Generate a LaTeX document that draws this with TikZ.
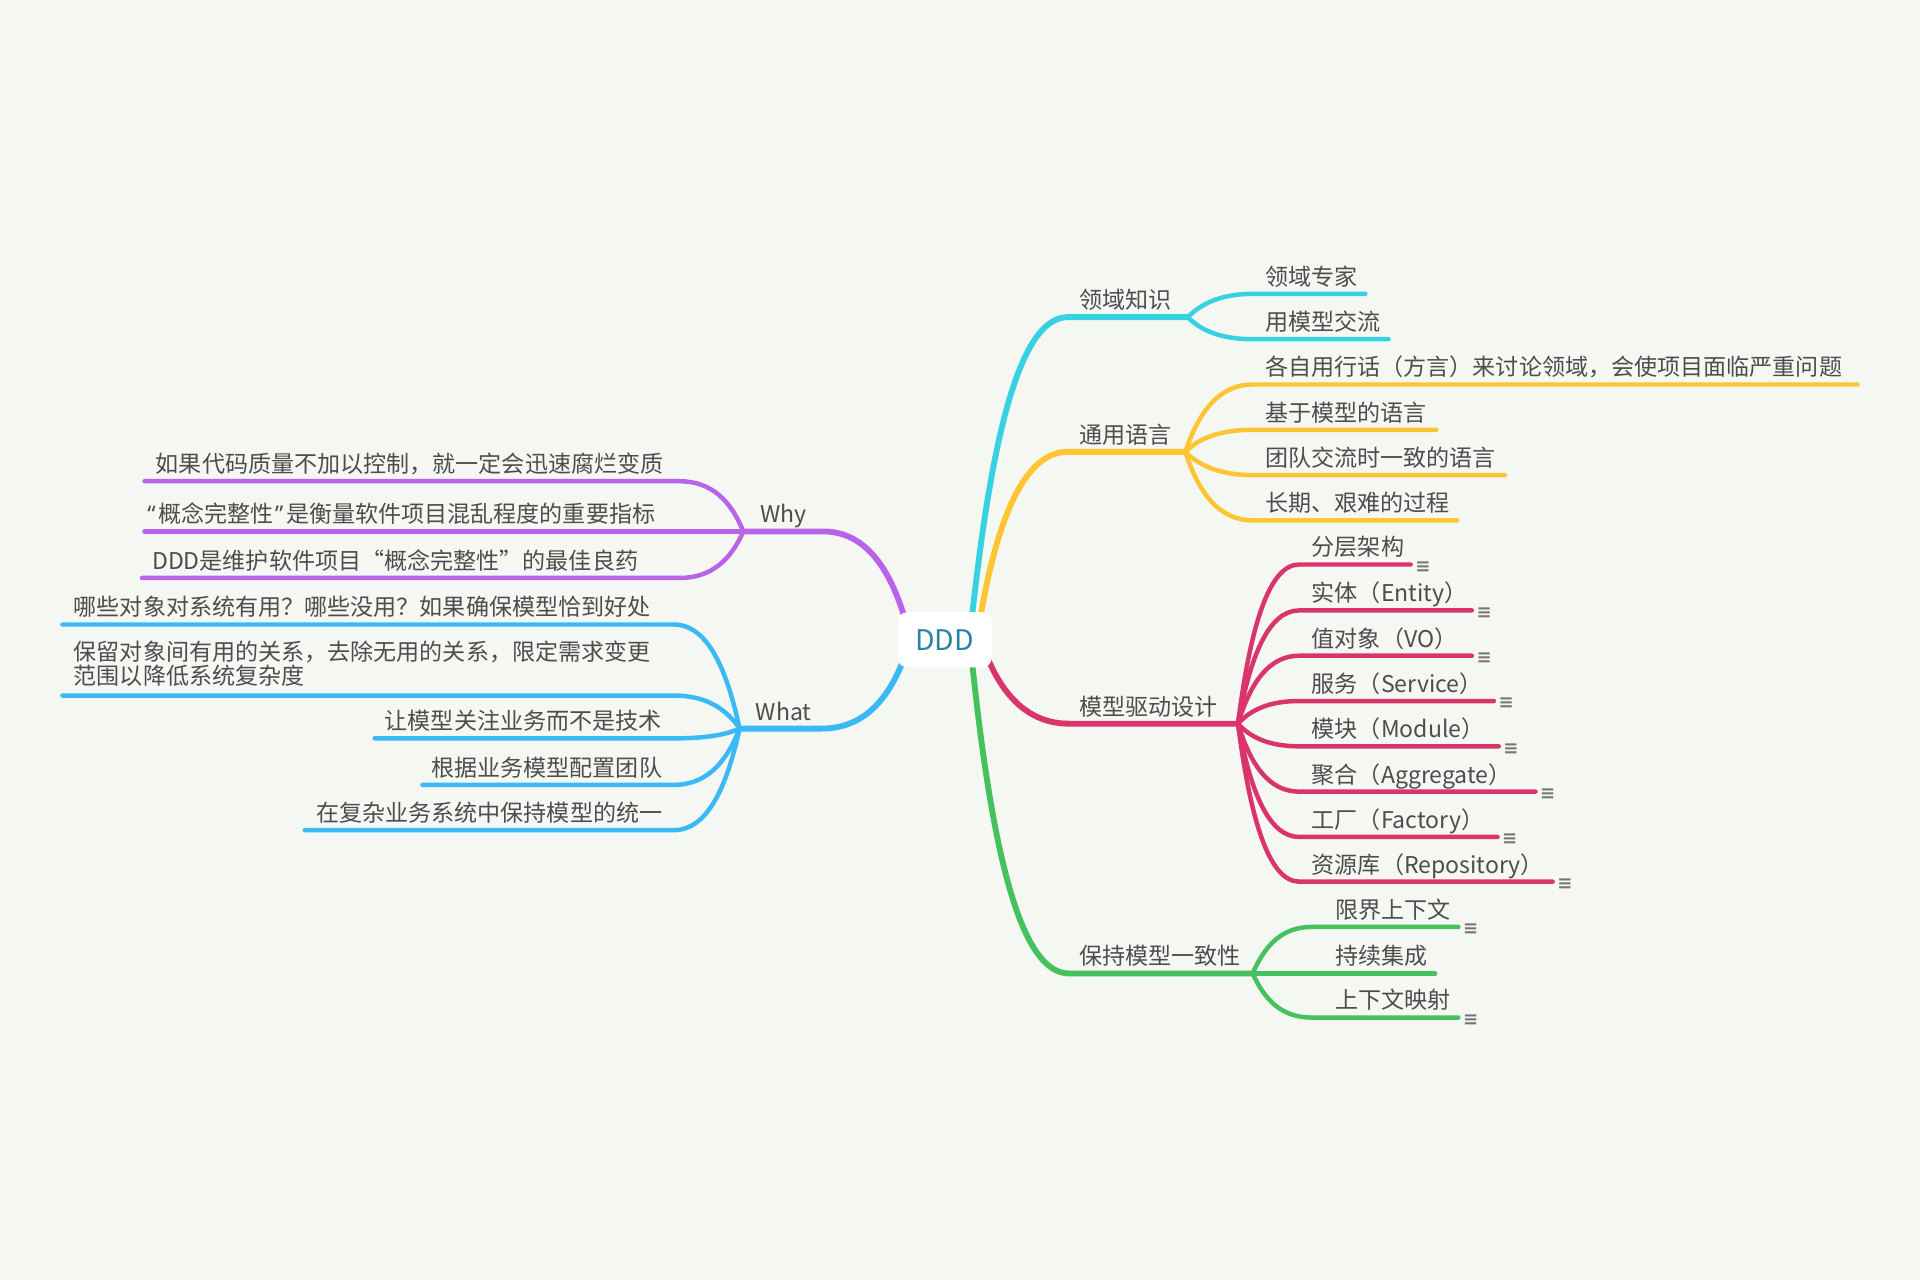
\documentclass[tikz,border=0pt]{standalone}
\usepackage{fontspec}
\setmainfont{Noto Sans CJK SC}
\newfontfamily\symfont{DejaVu Sans}
\newfontfamily\quotefont{Noto Sans}
\definecolor{bgc}{HTML}{F5F7F3}
\definecolor{txt}{HTML}{4D4D4D}
\definecolor{dddc}{HTML}{2A86A0}
\definecolor{cyanb}{HTML}{36D2E2}
\definecolor{yellowb}{HTML}{FEC532}
\definecolor{redb}{HTML}{D9346C}
\definecolor{greenb}{HTML}{45C15D}
\definecolor{purpleb}{HTML}{B963E9}
\definecolor{blueb}{HTML}{3BB9F5}
\definecolor{notec}{HTML}{767676}

\begin{document}
\begin{tikzpicture}[x=0.025cm, y=-0.025cm,
	every node/.style={inner sep=0pt, text=txt, font=\fontsize{13.4pt}{16pt}\selectfont},
	root/.style={rectangle, rounded corners=0.2cm, fill=white, minimum width=1.925cm, minimum height=1.125cm, text=dddc, font=\fontsize{16.5pt}{18pt}\selectfont},
	topic/.style={anchor=base west},
	hub/.style={anchor=base},
	trunk/.style={line width=3.4pt, line cap=round},
	twig/.style={line width=2.6pt, line cap=round},
	note/.style={text=notec, font=\symfont\bfseries\fontsize{10.5pt}{10.5pt}\selectfont}]
	\fill[bgc] (0,0) rectangle (1568,1045);
	\useasboundingbox (0,0) rectangle (1568,1045);

	% 领域知识
	\coordinate (kS) at (794,502);
	\coordinate (k) at (872,259);
	\coordinate (kF) at (970,259);
	\draw[trunk, cyanb] (kS) .. controls +(16,-146) and +(-39,0) .. (k) -- (kF);
	\node[topic] (kT) at (881,252) {领域知识};
	\coordinate (kA) at (1023,240); \coordinate (kAe) at (1115,240);
	\coordinate (kB) at (1023,277); \coordinate (kBe) at (1134,277);
	\draw[twig, cyanb] (kF) .. controls +(11,-11) and +(-26,0) .. (kA) -- (kAe);
	\draw[twig, cyanb] (kF) .. controls +(11,11) and +(-26,0) .. (kB) -- (kBe);
	\node[topic] (kAt) at (1033,233) {领域专家};
	\node[topic] (kBt) at (1033,270) {用模型交流};

	% 通用语言
	\coordinate (lS) at (801,502);
	\coordinate (l) at (872,369);
	\coordinate (lF) at (968,369);
	\draw[trunk, yellowb] (lS) .. controls +(14,-80) and +(-35,0) .. (l) -- (lF);
	\node[topic] (lT) at (881,362) {通用语言};
	\coordinate (lA) at (1023,314); \coordinate (lAe) at (1517,314);
	\coordinate (lB) at (1023,351); \coordinate (lBe) at (1173,351);
	\coordinate (lC) at (1023,388); \coordinate (lCe) at (1229,388);
	\coordinate (lD) at (1023,425); \coordinate (lDe) at (1190,425);
	\draw[twig, yellowb] (lF) .. controls +(11,-33) and +(-27,0) .. (lA) -- (lAe);
	\draw[twig, yellowb] (lF) .. controls +(11,-11) and +(-27,0) .. (lB) -- (lBe);
	\draw[twig, yellowb] (lF) .. controls +(11,11) and +(-27,0) .. (lC) -- (lCe);
	\draw[twig, yellowb] (lF) .. controls +(11,34) and +(-27,0) .. (lD) -- (lDe);
	\node[topic] (lAt) at (1033,307) {各自用行话（方言）来讨论领域，会使项目面临严重问题};
	\node[topic] (lBt) at (1033,344) {基于模型的语言};
	\node[topic] (lCt) at (1033,381) {团队交流时一致的语言};
	\node[topic] (lDt) at (1033,418) {长期、艰难的过程};

	% 模型驱动设计
	\coordinate (mS) at (806,536);
	\coordinate (m) at (873,591);
	\coordinate (mF) at (1011,591);
	\draw[trunk, redb] (mS) .. controls +(13,32) and +(-33,0) .. (m) -- (mF);
	\node[topic] (mT) at (881,584) {模型驱动设计};
	\coordinate (m1) at (1061,461); \coordinate (m1e) at (1152,461);
	\coordinate (m2) at (1061,498.5); \coordinate (m2e) at (1202,498.5);
	\coordinate (m3) at (1061,535.5); \coordinate (m3e) at (1202,535.5);
	\coordinate (m4) at (1061,572.5); \coordinate (m4e) at (1220,572.5);
	\coordinate (m5) at (1061,609.5); \coordinate (m5e) at (1224,609.5);
	\coordinate (m6) at (1061,646.5); \coordinate (m6e) at (1254,646.5);
	\coordinate (m7) at (1061,683.5); \coordinate (m7e) at (1223,683.5);
	\coordinate (m8) at (1061,720); \coordinate (m8e) at (1268,720);
	\draw[twig, redb] (mF) .. controls +(10,-78) and +(-25,0) .. (m1) -- (m1e);
	\draw[twig, redb] (mF) .. controls +(10,-55) and +(-25,0) .. (m2) -- (m2e);
	\draw[twig, redb] (mF) .. controls +(10,-33) and +(-25,0) .. (m3) -- (m3e);
	\draw[twig, redb] (mF) .. controls +(10,-11) and +(-25,0) .. (m4) -- (m4e);
	\draw[twig, redb] (mF) .. controls +(10,11) and +(-25,0) .. (m5) -- (m5e);
	\draw[twig, redb] (mF) .. controls +(10,33) and +(-25,0) .. (m6) -- (m6e);
	\draw[twig, redb] (mF) .. controls +(10,55) and +(-25,0) .. (m7) -- (m7e);
	\draw[twig, redb] (mF) .. controls +(10,77) and +(-25,0) .. (m8) -- (m8e);
	\node[topic] (m1t) at (1071,454) {分层架构};
	\node[topic] (m2t) at (1071,491.5) {实体（Entity）};
	\node[topic] (m3t) at (1071,528.5) {值对象（VO）};
	\node[topic] (m4t) at (1071,565.5) {服务（Service）};
	\node[topic] (m5t) at (1071,602.5) {模块（Module）};
	\node[topic] (m6t) at (1071,639.5) {聚合（Aggregate）};
	\node[topic] (m7t) at (1071,676.5) {工厂（Factory）};
	\node[topic] (m8t) at (1071,713) {资源库（Repository）};
	\node[note] (m1n) at (1162,463) {≡};
	\node[note] (m2n) at (1212,500.5) {≡};
	\node[note] (m3n) at (1212,537.5) {≡};
	\node[note] (m4n) at (1230,574.5) {≡};
	\node[note] (m5n) at (1234,611.5) {≡};
	\node[note] (m6n) at (1264,648.5) {≡};
	\node[note] (m7n) at (1233,685.5) {≡};
	\node[note] (m8n) at (1278,722) {≡};

	% 保持模型一致性
	\coordinate (gS) at (794,542);
	\coordinate (g) at (873,795);
	\coordinate (gF) at (1023,795);
	\draw[trunk, greenb] (gS) .. controls +(16,152) and +(-40,0) .. (g) -- (gF);
	\node[topic] (gT) at (881,788) {保持模型一致性};
	\coordinate (gA) at (1071,757); \coordinate (gAe) at (1191,757);
	\coordinate (gBe) at (1172,795);
	\coordinate (gC) at (1071,831); \coordinate (gCe) at (1191,831);
	\draw[twig, greenb] (gF) .. controls +(10,-23) and +(-24,0) .. (gA) -- (gAe);
	\draw[twig, greenb] (gF) -- (gBe);
	\draw[twig, greenb] (gF) .. controls +(10,22) and +(-24,0) .. (gC) -- (gCe);
	\node[topic] (gAt) at (1090,750) {限界上下文};
	\node[topic] (gBt) at (1090,788) {持续集成};
	\node[topic] (gCt) at (1090,824) {上下文映射};
	\node[note] (gAn) at (1201,759) {≡};
	\node[note] (gCn) at (1201,833) {≡};

	% Why
	\coordinate (yS) at (738,502);
	\coordinate (y) at (672,434);
	\coordinate (yF) at (607,434);
	\draw[trunk, purpleb] (yS) .. controls +(-13,-41) and +(33,0) .. (y) -- (yF);
	\node[hub] (yT) at (640,427) {Why};
	\coordinate (yA) at (555,393); \coordinate (yAe) at (118,393);
	\coordinate (yBe) at (118,434);
	\coordinate (yC) at (555,472); \coordinate (yCe) at (116,472);
	\draw[twig, purpleb] (yF) .. controls +(-10,-25) and +(26,0) .. (yA) -- (yAe);
	\draw[twig, purpleb] (yF) -- (yBe);
	\draw[twig, purpleb] (yF) .. controls +(-10,23) and +(26,0) .. (yC) -- (yCe);
	\node[topic] (yAt) at (127,386) {如果代码质量不加以控制，就一定会迅速腐烂变质};
	\node[topic] (yBt) at (120,427) {{\quotefont “}\kern1.5pt 概念完整性\kern1pt{\quotefont ”}\kern1.5pt 是衡量软件项目混乱程度的重要指标};
	\node[topic] (yCt) at (124,465) {DDD是维护软件项目“概念完整性”的最佳良药};

	% What
	\coordinate (wS) at (737,541);
	\coordinate (w) at (671,595);
	\coordinate (wF) at (604,595);
	\draw[trunk, blueb] (wS) .. controls +(-13,32) and +(33,0) .. (w) -- (wF);
	\node[hub] (wT) at (640,588) {What};
	\coordinate (w1) at (550,510); \coordinate (w1e) at (51,510);
	\coordinate (w2) at (550,568); \coordinate (w2e) at (51,568);
	\coordinate (w3) at (550,603); \coordinate (w3e) at (306,603);
	\coordinate (w4) at (550,641); \coordinate (w4e) at (345,641);
	\coordinate (w5) at (550,678); \coordinate (w5e) at (249,678);
	\draw[twig, blueb] (wF) .. controls +(-11,-51) and +(27,0) .. (w1) -- (w1e);
	\draw[twig, blueb] (wF) .. controls +(-11,-16) and +(27,0) .. (w2) -- (w2e);
	\draw[twig, blueb] (wF) .. controls +(-11,5) and +(27,0) .. (w3) -- (w3e);
	\draw[twig, blueb] (wF) .. controls +(-11,28) and +(27,0) .. (w4) -- (w4e);
	\draw[twig, blueb] (wF) .. controls +(-11,50) and +(27,0) .. (w5) -- (w5e);
	\node[topic] (w1t) at (60,503) {哪些对象对系统有用？哪些没用？如果确保模型恰到好处};
	\node[topic, align=left, font=\fontsize{13.4pt}{14.2pt}\selectfont] (w2t) at (60,559) {保留对象间有用的关系，去除无用的关系，限定需求变更\\范围以降低系统复杂度};
	\node[topic] (w3t) at (314,596) {让模型关注业务而不是技术};
	\node[topic] (w4t) at (352,634) {根据业务模型配置团队};
	\node[topic] (w5t) at (258,671) {在复杂业务系统中保持模型的统一};

	% DDD
	\node[root] (ddd) at (771.5,522.5) {DDD};
\end{tikzpicture}
\end{document}
